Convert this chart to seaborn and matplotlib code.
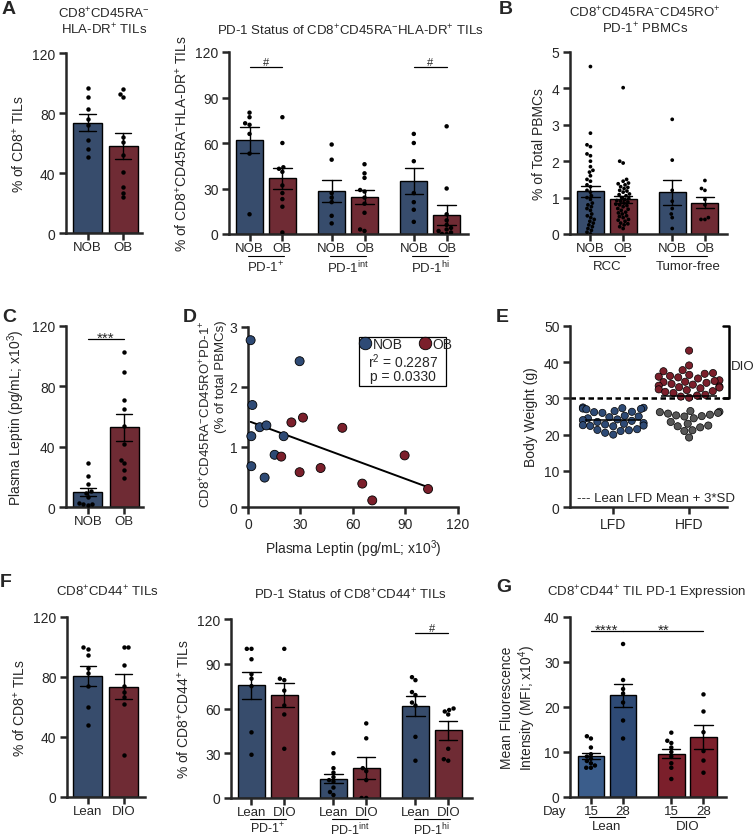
import warnings
import numpy as np
import pandas as pd
import matplotlib
matplotlib.use("Agg")
import matplotlib.pyplot as plt
import seaborn as sns
from matplotlib.lines import Line2D
from matplotlib.patches import Rectangle

warnings.filterwarnings("ignore")

# ---- data ----
# A: CD8+CD45RA-HLA-DR+ TILs (% of CD8+)
A1_NOB = [97, 91, 83, 76, 72, 62, 56, 51]
A1_OB = [96, 93, 91, 64, 61, 52, 41, 31, 27, 24]
# A: PD-1 status
A2_NOB_POS = [80, 77, 73, 72, 66, 53, 13]
A2_OB_POS = [77, 60, 44, 43, 41, 32, 27, 23, 18, 1]
A2_NOB_INT = [59, 49, 27, 24, 21, 12, 7]
A2_OB_INT = [46, 40, 37, 29, 28, 24, 20, 14, 3, 2]
A2_NOB_HI = [66, 60, 48, 27, 21, 16, 8]
A2_OB_HI = [71, 30, 13, 9, 6, 4, 3, 2, 1, 0, 0]
# B: PD-1+ PBMCs (% of total)
B_RCC_NOB = [4.6, 2.77, 2.45, 2.4, 2.2, 2.15, 2.0, 1.85, 1.75, 1.7, 1.6, 1.5, 1.45,
             1.35, 1.3, 1.2, 1.15, 1.05, 1.0, 0.95, 0.85, 0.8, 0.75, 0.7, 0.65,
             0.55, 0.5, 0.45, 0.4, 0.35, 0.3, 0.25, 0.2, 0.15, 0.1, 0.05, 0.0]
B_RCC_OB = [4.02, 2.0, 1.95, 1.5, 1.45, 1.4, 1.38, 1.35, 1.3, 1.28, 1.25, 1.2, 1.18,
            1.15, 1.1, 1.08, 1.05, 1.0, 0.98, 0.95, 0.92, 0.9, 0.88, 0.85, 0.82,
            0.8, 0.78, 0.75, 0.7, 0.68, 0.65, 0.6, 0.58, 0.55, 0.5, 0.48, 0.45,
            0.4, 0.38, 0.35, 0.3, 0.28, 0.25, 0.2, 0.15]
B_TF_NOB = [3.15, 2.03, 1.2, 0.9, 0.7, 0.55, 0.45, 0.15]
B_TF_OB = [1.47, 1.25, 1.2, 0.95, 0.8, 0.45, 0.4, 0.4]
# C / D: plasma leptin (x10^3 pg/mL) and PD-1+ PBMCs per patient
LEPTIN_NOB = [1.5, 29.5, 2.5, 6.7, 10.5, 1.9, 20.4, 15.2, 1.9, 9.5]
PD1_NOB = [2.78, 2.43, 1.70, 1.33, 1.36, 1.18, 1.18, 0.87, 0.68, 0.49]
LEPTIN_OB = [24.8, 31.4, 53.9, 19.0, 29.5, 41.5, 65.3, 71.0, 89.5, 102.9]
PD1_OB = [1.41, 1.49, 1.32, 0.84, 0.58, 0.65, 0.39, 0.11, 0.86, 0.30]
R2_TEXT = "r$^{2}$ = 0.2287"
P_TEXT = "p = 0.0330"
# E: body weight (g)
E_LFD = [27.5, 27.4, 27.3, 27.2, 27.1, 27.0, 26.5, 26.3, 26.2, 26.0, 25.2, 25.0,
         24.8, 24.5, 24.2, 24.0, 23.8, 23.5, 23.2, 23.0, 22.8, 22.6, 22.5, 22.4,
         22.3, 21.5, 21.3, 21.2, 21.0, 20.5, 20.0]
E_HFD_DIO = [43.2, 39.1, 37.8, 37.5, 37.0, 36.8, 36.5, 36.2, 36.0, 35.8, 35.5, 35.0,
             34.8, 34.6, 34.5, 34.3, 34.0, 33.8, 33.5, 33.3, 33.1, 33.0, 32.8,
             32.5, 32.3, 32.0, 31.8, 31.5, 31.0, 30.8, 30.5, 30.2]
E_HFD_RES = [26.5, 26.3, 26.2, 26.0, 25.8, 25.5, 25.3, 25.1, 25.0, 24.5, 23.5,
             23.0, 22.5, 22.3, 22.0, 21.2, 21.0, 19.2]
E_THRESHOLD = 30
# F: mouse TILs
F1_LEAN = [100, 99, 95, 86, 83, 74, 60, 48]
F1_DIO = [100, 100, 88, 74, 70, 67, 62, 28]
F2_LEAN_POS = [100, 100, 93, 83, 80, 75, 44, 29]
F2_DIO_POS = [100, 80, 79, 72, 62, 56, 33]
F2_LEAN_INT = [30, 20, 17, 14, 12, 11, 7, 4, 2]
F2_DIO_INT = [50, 40, 20, 18, 12, 0, 0]
F2_LEAN_HI = [81, 79, 71, 69, 64, 62, 41, 25]
F2_DIO_HI = [60, 59, 58, 56, 33, 26, 25]
# G: PD-1 MFI (x10^4)
G_LEAN_15 = [13.5, 13, 11, 9.5, 9, 8.5, 8, 7.5, 7, 6.5, 6.5]
G_LEAN_28 = [34, 26, 24, 23, 21, 17, 13]
G_DIO_15 = [14.3, 12.5, 12, 11, 10, 9, 7.5, 6.5, 4]
G_DIO_28 = [22.8, 19, 14.4, 10.2, 8.1, 5.4]

STATUS = ["PD-1$^{+}$", "PD-1$^{\\mathrm{int}}$", "PD-1$^{\\mathrm{hi}}$"]

BLUE = "#2e4a75"
BLUE_LIGHT = "#3b5d8b"
RED = "#7b1f2b"
GREY = "#575757"

TICK = 10
XTICK = 9.5
LAB = 10
TTL = 9.5

sns.set_style("ticks")
plt.rcParams["font.family"] = ["Liberation Sans", "DejaVu Sans"]
plt.rcParams["mathtext.fontset"] = "custom"
plt.rcParams["mathtext.rm"] = "Liberation Sans"
plt.rcParams["mathtext.it"] = "Liberation Sans:italic"
plt.rcParams["mathtext.bf"] = "Liberation Sans:bold"
plt.rcParams["axes.linewidth"] = 1.8

W, H = 755, 837
fig = plt.figure(figsize=(W / 100, H / 100), dpi=100)


def add_ax(l, t, r, b):
    return fig.add_axes([l / W, 1 - b / H, (r - l) / W, (b - t) / H])


def make_df(cats, hues, values):
    rows = []
    k = 0
    for c in cats:
        for h in hues:
            rows += [(c, h, v) for v in values[k]]
            k += 1
    return pd.DataFrame(rows, columns=["cat", "grp", "val"])


ERR = {"color": "k", "linewidth": 1.0}


def bar_panel(ax, df, palette, order, hue_order=None, dot=3.2):
    if hue_order is None:
        sns.barplot(data=df, x="grp", y="val", hue="grp", order=order, hue_order=order,
                    palette=palette, width=0.8, errorbar="se", capsize=0.45,
                    err_kws=ERR, edgecolor="k", linewidth=1.0, legend=False, ax=ax)
        sns.swarmplot(data=df, x="grp", y="val", order=order, color="k", size=dot,
                      ax=ax, zorder=4)
    else:
        sns.barplot(data=df, x="cat", y="val", hue="grp", order=order,
                    hue_order=hue_order, palette=palette, width=0.8, gap=0.17,
                    errorbar="se", capsize=0.45, err_kws=ERR, edgecolor="k",
                    linewidth=1.0, legend=False, ax=ax)
        sns.swarmplot(data=df, x="cat", y="val", hue="grp", order=order,
                      hue_order=hue_order, palette={h: "k" for h in hue_order},
                      dodge=True, size=dot, legend=False, ax=ax, zorder=4)


def style(ax):
    sns.despine(ax=ax)
    for s in ("left", "bottom"):
        ax.spines[s].set_linewidth(1.8)
    ax.tick_params(width=1.8, length=5, labelsize=TICK, pad=2.5)
    ax.tick_params(axis="x", labelsize=XTICK, pad=1)
    ax.set_xlabel("")


def dodge_ticks(ax, n_groups, labels):
    pos = [i + d for i in range(n_groups) for d in (-0.2, 0.2)]
    ax.set_xticks(pos, labels * n_groups)


def group_labels(ax, names, line_px=22, text_px=26, half=0.22, size=XTICK):
    h = ax.get_position().height * H
    tr = ax.get_xaxis_transform()
    for i, n in enumerate(names):
        ax.plot([i - half, i + half], [-line_px / h] * 2, transform=tr, color="k",
                lw=0.8, clip_on=False)
        ax.text(i, -text_px / h, n, transform=tr, ha="center", va="top", fontsize=size)


def sig(ax, x0, x1, y, label, size=8, dy=0.0):
    ax.plot([x0, x1], [y, y], color="k", lw=0.9)
    ax.text((x0 + x1) / 2, y + dy, label, ha="center", va="baseline", fontsize=size)


def title(x, y, s, size=TTL):
    fig.text(x / W, 1 - y / H, s, ha="center", va="center", fontsize=size)


def letter(x, y, s):
    fig.text(x / W, 1 - y / H, s, ha="left", va="center", fontsize=14, fontweight="bold")


NOB_OB = {"NOB": BLUE, "OB": RED}
LEAN_DIO = {"Lean": BLUE, "DIO": RED}

# ---- A (left) ----
ax = add_ax(66, 54, 142, 234)
bar_panel(ax, make_df(["all"], ["NOB", "OB"], [A1_NOB, A1_OB]), NOB_OB, ["NOB", "OB"])
ax.set_xlim(-0.6, 1.52)
ax.set_ylim(0, 120)
ax.set_yticks([0, 40, 80, 120])
ax.set_ylabel("% of CD8$^{+}$ TILs", fontsize=LAB)
style(ax)
title(104, 14, "CD8$^{+}$CD45RA$^{-}$")
title(104, 30, "HLA-DR$^{+}$ TILs")

# ---- A (right) ----
ax = add_ax(229, 53, 468, 235)
dfA2 = make_df(STATUS, ["NOB", "OB"],
               [A2_NOB_POS, A2_OB_POS, A2_NOB_INT, A2_OB_INT, A2_NOB_HI, A2_OB_HI])
bar_panel(ax, dfA2, NOB_OB, STATUS, ["NOB", "OB"])
ax.set_xlim(-0.45, 2.46)
ax.set_ylim(0, 120)
ax.set_yticks([0, 30, 60, 90, 120])
ax.set_ylabel("% of CD8$^{+}$CD45RA$^{-}$HLA-DR$^{+}$ TILs", fontsize=LAB)
style(ax)
dodge_ticks(ax, 3, ["NOB", "OB"])
group_labels(ax, STATUS, line_px=22, text_px=25)
sig(ax, -0.2, 0.2, 110, "#", dy=1.5)
sig(ax, 1.8, 2.2, 110, "#", dy=1.5)
title(350, 31, "PD-1 Status of CD8$^{+}$CD45RA$^{-}$HLA-DR$^{+}$ TILs")

# ---- B ----
ax = add_ax(570, 53, 727, 235)
dfB = make_df(["RCC", "Tumor-free"], ["NOB", "OB"], [B_RCC_NOB, B_RCC_OB, B_TF_NOB, B_TF_OB])
bar_panel(ax, dfB, NOB_OB, ["RCC", "Tumor-free"], ["NOB", "OB"], dot=2.7)
ax.set_xlim(-0.45, 1.47)
ax.set_ylim(0, 5)
ax.set_yticks([0, 1, 2, 3, 4, 5])
ax.set_ylabel("% of Total PBMCs", fontsize=LAB)
style(ax)
dodge_ticks(ax, 2, ["NOB", "OB"])
group_labels(ax, ["RCC", "Tumor-free"], line_px=22, text_px=26)
title(645, 13, "CD8$^{+}$CD45RA$^{-}$CD45RO$^{+}$")
title(645, 29, "PD-1$^{+}$ PBMCs")

# ---- C ----
ax = add_ax(66, 327, 143, 508)
bar_panel(ax, make_df(["all"], ["NOB", "OB"], [LEPTIN_NOB, LEPTIN_OB]), NOB_OB, ["NOB", "OB"])
ax.set_xlim(-0.6, 1.52)
ax.set_ylim(0, 120)
ax.set_yticks([0, 40, 80, 120])
ax.set_ylabel("Plasma Leptin (pg/mL; x10$^{3}$)", fontsize=LAB)
style(ax)
sig(ax, 0, 1, 111.5, "***", size=11, dy=-2)

# ---- D ----
ax = add_ax(248, 328, 458, 508)
dfD = pd.DataFrame({"leptin": LEPTIN_NOB + LEPTIN_OB, "pd1": PD1_NOB + PD1_OB,
                    "grp": ["NOB"] * len(LEPTIN_NOB) + ["OB"] * len(LEPTIN_OB)})
sns.regplot(data=dfD, x="leptin", y="pd1", scatter=False, ci=None, color="k",
            line_kws={"linewidth": 1.4}, ax=ax)
sns.scatterplot(data=dfD, x="leptin", y="pd1", hue="grp", palette=NOB_OB, s=42,
                edgecolor="k", linewidth=0.6, legend=False, ax=ax, zorder=4, clip_on=False)
ax.set_xlim(0, 120)
ax.set_ylim(0, 3)
ax.set_xticks([0, 30, 60, 90, 120])
ax.set_yticks([0, 1, 2, 3])
style(ax)
ax.tick_params(axis="x", labelsize=TICK, pad=2.5)
ax.set_xlabel("Plasma Leptin (pg/mL; x10$^{3}$)", fontsize=LAB)
ax.set_ylabel("CD8$^{+}$CD45RA$^{-}$CD45RO$^{+}$PD-1$^{+}$\n(% of total PBMCs)",
              fontsize=9.5, multialignment="right")
ax.yaxis.set_label_coords(-0.1, 0.52)
handles = [Line2D([], [], marker="o", ls="", markerfacecolor=c, markeredgecolor="k",
                  markeredgewidth=0.6, markersize=9) for c in (BLUE, RED)]
ax.legend(handles, ["NOB", "OB"], ncol=2, loc="center", bbox_to_anchor=(0.75, 0.906),
          frameon=False, fontsize=LAB, handletextpad=0.05, columnspacing=1.1,
          borderpad=0, handlelength=1.0)
ax.text(0.738, 0.811, R2_TEXT, transform=ax.transAxes, ha="center", va="center", fontsize=LAB)
ax.text(0.738, 0.728, P_TEXT, transform=ax.transAxes, ha="center", va="center", fontsize=LAB)
ax.add_patch(Rectangle((0.529, 0.672), 0.414, 0.272, transform=ax.transAxes,
                       fill=False, edgecolor="k", lw=0.9))

# ---- E ----
ax = add_ax(570, 327, 727, 508)
dfE = pd.DataFrame({
    "diet": ["LFD"] * len(E_LFD) + ["HFD"] * (len(E_HFD_DIO) + len(E_HFD_RES)),
    "bw": E_LFD + E_HFD_DIO + E_HFD_RES,
    "cls": ["Lean"] * len(E_LFD) + ["DIO"] * len(E_HFD_DIO) + ["Res"] * len(E_HFD_RES)})
sns.swarmplot(data=dfE, x="diet", y="bw", hue="cls", order=["LFD", "HFD"],
              palette={"Lean": BLUE, "DIO": RED, "Res": GREY}, size=5.2,
              edgecolor="k", linewidth=0.5, legend=False, ax=ax, zorder=3)
for i, d in enumerate(["LFD", "HFD"]):
    ax.hlines(dfE.loc[dfE.diet == d, "bw"].mean(), i - 0.37, i + 0.37, color="k",
              lw=1.1, zorder=5)
ax.set_xlim(-0.57, 1.5)
ax.set_ylim(0, 50)
ax.set_yticks([0, 10, 20, 30, 40, 50])
ax.set_ylabel("Body Weight (g)", fontsize=LAB)
style(ax)
ax.tick_params(axis="x", labelsize=TICK, pad=2.5)
ax.plot([-0.57, 1.53], [E_THRESHOLD, E_THRESHOLD], color="k", ls=(0, (2.2, 1.4)),
        lw=1.8, clip_on=False, zorder=2)
ax.plot([1.45, 1.53, 1.53, 1.45], [50, 50, E_THRESHOLD, E_THRESHOLD], color="k",
        lw=1.8, clip_on=False)
ax.text(1.555, 39, "DIO", ha="left", va="center", fontsize=9.5)
ax.text(-0.48, 2.6, "--- Lean LFD Mean + 3*SD", ha="left", va="center", fontsize=9.5)

# ---- F (left) ----
ax = add_ax(67, 618, 145, 798)
bar_panel(ax, make_df(["all"], ["Lean", "DIO"], [F1_LEAN, F1_DIO]), LEAN_DIO, ["Lean", "DIO"])
ax.set_xlim(-0.58, 1.6)
ax.set_ylim(0, 120)
ax.set_yticks([0, 40, 80, 120])
ax.set_ylabel("% of CD8$^{+}$ TILs", fontsize=LAB)
style(ax)
title(108, 592, "CD8$^{+}$CD44$^{+}$ TILs")

# ---- F (right) ----
ax = add_ax(231, 620, 472, 799)
dfF2 = make_df(STATUS, ["Lean", "DIO"],
               [F2_LEAN_POS, F2_DIO_POS, F2_LEAN_INT, F2_DIO_INT, F2_LEAN_HI, F2_DIO_HI])
bar_panel(ax, dfF2, LEAN_DIO, STATUS, ["Lean", "DIO"])
ax.set_xlim(-0.45, 2.49)
ax.set_ylim(0, 120)
ax.set_yticks([0, 30, 60, 90, 120])
ax.set_ylabel("% of CD8$^{+}$CD44$^{+}$ TILs", fontsize=LAB)
style(ax)
dodge_ticks(ax, 3, ["Lean", "DIO"])
group_labels(ax, STATUS, line_px=21, text_px=22.5, size=9)
sig(ax, 1.8, 2.2, 110.7, "#", dy=1.5)
title(350, 595, "PD-1 Status of CD8$^{+}$CD44$^{+}$ TILs")

# ---- G ----
ax = add_ax(570, 618, 726, 798)
dfG = make_df(["Lean", "DIO"], ["15", "28"], [G_LEAN_15, G_LEAN_28, G_DIO_15, G_DIO_28])
bar_panel(ax, dfG, {"15": BLUE, "28": BLUE}, ["Lean", "DIO"], ["15", "28"])
G_COLORS = {(0, "15"): BLUE_LIGHT, (0, "28"): BLUE, (1, "15"): RED, (1, "28"): RED}
for p in ax.patches:
    c = p.get_x() + p.get_width() / 2
    g = int(round(c))
    p.set_facecolor(G_COLORS[(g, "15" if c < g else "28")])
ax.set_xlim(-0.46, 1.48)
ax.set_ylim(0, 40)
ax.set_yticks([0, 10, 20, 30, 40])
ax.set_ylabel("Mean Fluorescence\nIntensity (MFI; x10$^{4}$)", fontsize=LAB)
style(ax)
dodge_ticks(ax, 2, ["15", "28"])
group_labels(ax, ["Lean", "DIO"], line_px=20, text_px=23)
sig(ax, -0.2, 0.2, 36.9, "****", size=11, dy=-0.6)
sig(ax, 0.2, 1.2, 36.9, "**", size=11, dy=-0.6)
fig.text(555 / W, 1 - 812 / H, "Day", ha="center", va="center", fontsize=XTICK)
title(647, 593, "CD8$^{+}$CD44$^{+}$ TIL PD-1 Expression")

# ---- panel letters ----
letter(2, 10, "A")
letter(499, 10, "B")
letter(2, 318, "C")
letter(183, 318, "D")
letter(496, 318, "E")
letter(0, 583, "F")
letter(496, 588, "G")

fig.savefig("out.png", dpi=100)
